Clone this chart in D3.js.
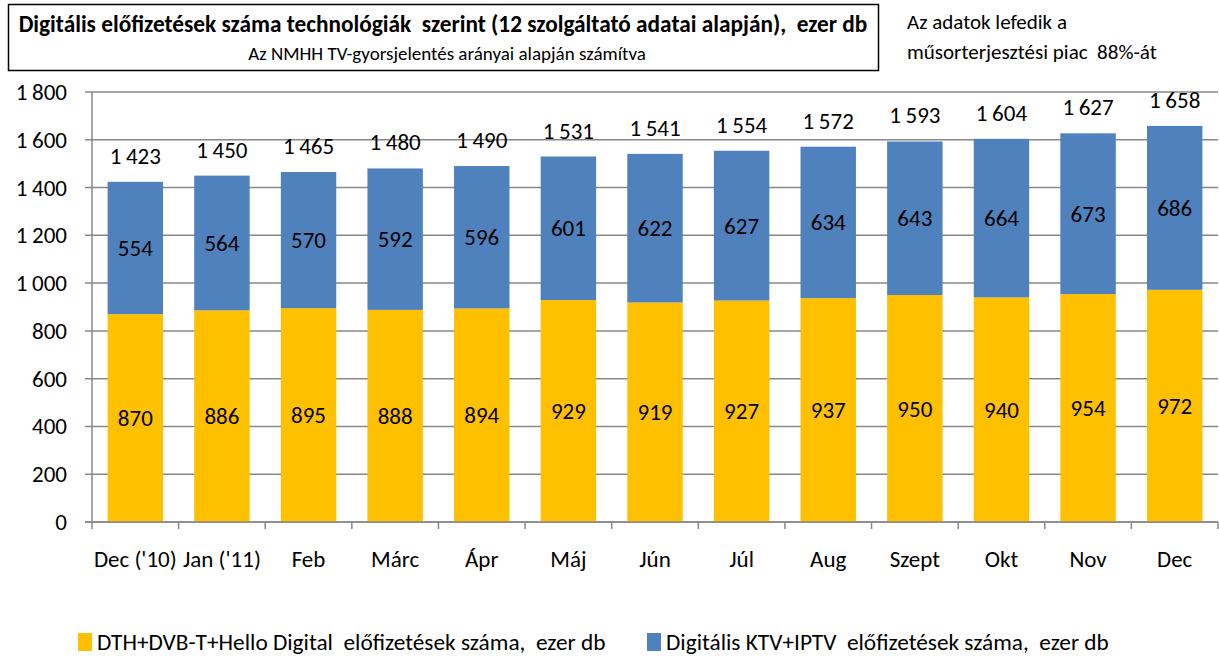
<!DOCTYPE html>
<html>
<head>
<meta charset="utf-8">
<script src="https://cdn.jsdelivr.net/npm/d3@7"></script>
<style>
  html, body { margin: 0; padding: 0; background: #fff; }
  svg text { font-family: "Carlito", "Liberation Sans Narrow", "Open Sans", sans-serif; fill: #000; }
</style>
</head>
<body>
<svg id="chart" width="1219" height="657"></svg>
<script>
// months on the x axis
var months = ["Dec ('10)", "Jan ('11)", "Feb", "Márc", "Ápr", "Máj", "Jún", "Júl", "Aug", "Szept", "Okt", "Nov", "Dec"];
// DTH+DVB-T+Hello Digital (yellow, bottom)
var dthValues = [870, 886, 895, 888, 894, 929, 919, 927, 937, 950, 940, 954, 972];
// Digitális KTV+IPTV (blue, top)
var ktvValues = [554, 564, 570, 592, 596, 601, 622, 627, 634, 643, 664, 673, 686];
// totals printed above the bars
var totals = [1423, 1450, 1465, 1480, 1490, 1531, 1541, 1554, 1572, 1593, 1604, 1627, 1658];
var yTicks = [0, 200, 400, 600, 800, 1000, 1200, 1400, 1600, 1800];
var seriesNames = ["DTH+DVB-T+Hello Digital  előfizetések száma,  ezer db", "Digitális KTV+IPTV  előfizetések száma,  ezer db"];
var colors = ["#FFC000", "#4F81BD"];

var svg = d3.select("#chart");

// thousands separated by a space, like the original
function fmt(v) {
    return v >= 1000 ? Math.floor(v / 1000) + "\u2009" + d3.format("03d")(v % 1000) : String(v);
}

// plot area (don't call it "top", that's window.top)
var pLeft = 92, pRight = 1218, pTop = 92, pBottom = 522;

var x = d3.scaleBand().domain(months).range([pLeft, pRight]).paddingInner(0.36).paddingOuter(0.18);
var y = d3.scaleLinear().domain([0, 1800]).range([pBottom, pTop]);
var step = x.step();

// title box
svg.append("rect").attr("x", 8.5).attr("y", 4.5).attr("width", 870).attr("height", 66)
    .attr("fill", "none").attr("stroke", "#000").attr("stroke-width", 1.5);
svg.append("text").attr("x", 443).attr("y", 32).attr("text-anchor", "middle")
    .style("font-size", "23.3px").style("font-weight", "bold").style("white-space", "pre")
    .text("Digitális előfizetések száma technológiák  szerint (12 szolgáltató adatai alapján),  ezer db");
svg.append("text").attr("x", 447).attr("y", 60).attr("text-anchor", "middle")
    .style("font-size", "19px")
    .text("Az NMHH TV-gyorsjelentés arányai alapján számítva");

// note on the right
svg.append("text").attr("x", 907).attr("y", 29).style("font-size", "21px").text("Az adatok lefedik a");
svg.append("text").attr("x", 907).attr("y", 59).style("font-size", "21px").style("white-space", "pre")
    .text("műsorterjesztési piac  88%-át");

// gridlines
svg.append("g").selectAll("line").data(yTicks).join("line")
    .attr("x1", pLeft - 7).attr("x2", pRight)
    .attr("y1", function (d) { return y(d); }).attr("y2", function (d) { return y(d); })
    .attr("stroke", "#888").attr("stroke-width", 1.5);

// y axis line
svg.append("line").attr("x1", pLeft).attr("x2", pLeft).attr("y1", pTop).attr("y2", pBottom)
    .attr("stroke", "#888").attr("stroke-width", 1.5);

// y tick labels
svg.append("g").selectAll("text").data(yTicks).join("text")
    .attr("x", 67).attr("y", function (d) { return y(d); }).attr("dy", "0.35em")
    .attr("text-anchor", "end").style("font-size", "23px")
    .text(fmt);

// x ticks at category boundaries
var bounds = months.map(function (m) { return x(m) - x.paddingOuter() * step; }).concat([pRight]);
svg.append("g").selectAll("line").data(bounds).join("line")
    .attr("x1", function (d) { return d; }).attr("x2", function (d) { return d; })
    .attr("y1", pBottom).attr("y2", pBottom + 7)
    .attr("stroke", "#888").attr("stroke-width", 1.5);

// x labels
svg.append("g").selectAll("text").data(months).join("text")
    .attr("x", function (d) { return x(d) + x.bandwidth() / 2; }).attr("y", 567)
    .attr("text-anchor", "middle").style("font-size", "23px")
    .text(function (d) { return d; });

// bars
var rows = months.map(function (m, i) { return { m: m, a: dthValues[i], b: ktvValues[i], t: totals[i] }; });

svg.append("g").selectAll("rect").data(rows).join("rect")
    .attr("x", function (d) { return x(d.m); }).attr("width", x.bandwidth())
    .attr("y", function (d) { return y(d.a); })
    .attr("height", function (d) { return y(0) - y(d.a); })
    .attr("fill", colors[0]);

svg.append("g").selectAll("rect").data(rows).join("rect")
    .attr("x", function (d) { return x(d.m); }).attr("width", x.bandwidth())
    .attr("y", function (d) { return y(d.a + d.b); })
    .attr("height", function (d) { return y(d.a) - y(d.a + d.b); })
    .attr("fill", colors[1]);

// redraw the zero line over the bars
svg.append("line").attr("x1", pLeft - 7).attr("x2", pRight).attr("y1", pBottom).attr("y2", pBottom)
    .attr("stroke", "#888").attr("stroke-width", 1.5);

// value labels
svg.append("g").selectAll("text").data(rows).join("text")
    .attr("x", function (d) { return x(d.m) + x.bandwidth() / 2; })
    .attr("y", function (d) { return y(d.a / 2); }).attr("dy", "0.35em")
    .attr("text-anchor", "middle").style("font-size", "23px")
    .text(function (d) { return d.a; });

svg.append("g").selectAll("text").data(rows).join("text")
    .attr("x", function (d) { return x(d.m) + x.bandwidth() / 2; })
    .attr("y", function (d) { return y(d.a + d.b / 2); }).attr("dy", "0.35em")
    .attr("text-anchor", "middle").style("font-size", "23px")
    .text(function (d) { return d.b; });

svg.append("g").selectAll("text").data(rows).join("text")
    .attr("x", function (d) { return x(d.m) + x.bandwidth() / 2; })
    .attr("y", function (d) { return y(d.a + d.b) - 18; })
    .attr("text-anchor", "middle").style("font-size", "23px")
    .text(function (d) { return fmt(d.t); });

// legend
var legendX = [78, 647];
var lg = svg.append("g").selectAll("g").data(seriesNames).join("g")
    .attr("transform", function (d, i) { return "translate(" + legendX[i] + ",633)"; });
lg.append("rect").attr("width", 14).attr("height", 18).attr("fill", function (d, i) { return colors[i]; });
lg.append("text").attr("x", 19).attr("y", 17).style("font-size", "23.3px").style("white-space", "pre")
    .text(function (d) { return d; });
</script>
</body>
</html>
